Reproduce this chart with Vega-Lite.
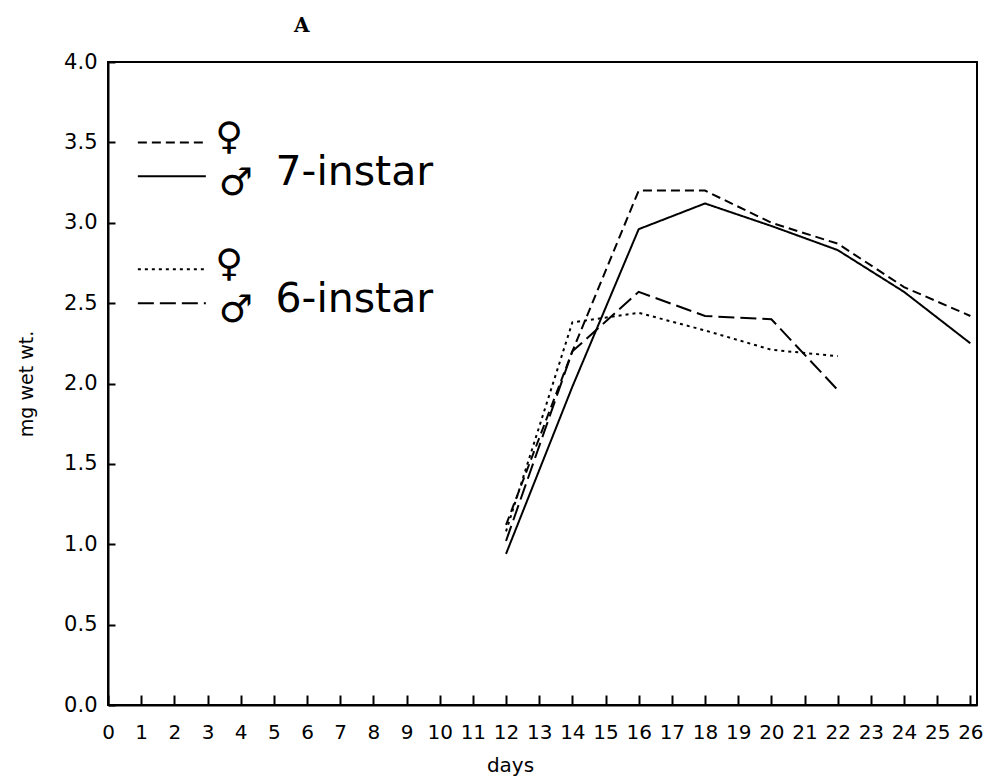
{
  "$schema": "https://vega.github.io/schema/vega-lite/v6.json",
  "width": 869,
  "height": 643,
  "autosize": "none",
  "padding": {"left": 108, "top": 62, "right": 17, "bottom": 73},
  "background": "white",
  "config": {
    "view": {"stroke": "black", "strokeWidth": 2},
    "font": "DejaVu Sans"
  },
  "title": {"text": "A", "anchor": "start", "dx": 277, "offset": 15, "font": "DejaVu Serif", "fontSize": 20, "fontWeight": "bold", "color": "black"},
  "datasets": {
    "main": [
      {"day": 12, "wt": 1.12, "s": "F7"},
      {"day": 14, "wt": 2.2, "s": "F7"},
      {"day": 16, "wt": 3.2, "s": "F7"},
      {"day": 18, "wt": 3.2, "s": "F7"},
      {"day": 20, "wt": 3.0, "s": "F7"},
      {"day": 22, "wt": 2.87, "s": "F7"},
      {"day": 24, "wt": 2.6, "s": "F7"},
      {"day": 26, "wt": 2.42, "s": "F7"},
      {"day": 12, "wt": 0.94, "s": "M7"},
      {"day": 14, "wt": 1.98, "s": "M7"},
      {"day": 16, "wt": 2.96, "s": "M7"},
      {"day": 18, "wt": 3.12, "s": "M7"},
      {"day": 20, "wt": 2.98, "s": "M7"},
      {"day": 22, "wt": 2.83, "s": "M7"},
      {"day": 24, "wt": 2.57, "s": "M7"},
      {"day": 26, "wt": 2.25, "s": "M7"},
      {"day": 12, "wt": 1.08, "s": "F6"},
      {"day": 14, "wt": 2.38, "s": "F6"},
      {"day": 16, "wt": 2.44, "s": "F6"},
      {"day": 18, "wt": 2.33, "s": "F6"},
      {"day": 20, "wt": 2.21, "s": "F6"},
      {"day": 22, "wt": 2.17, "s": "F6"},
      {"day": 12, "wt": 1.02, "s": "M6"},
      {"day": 14, "wt": 2.2, "s": "M6"},
      {"day": 16, "wt": 2.57, "s": "M6"},
      {"day": 18, "wt": 2.42, "s": "M6"},
      {"day": 20, "wt": 2.4, "s": "M6"},
      {"day": 22, "wt": 1.96, "s": "M6"}
    ],
    "leg": [
      {"s": "F7", "day": 0.9, "day2": 2.95, "wt": 3.5},
      {"s": "M7", "day": 0.9, "day2": 2.95, "wt": 3.29},
      {"s": "F6", "day": 0.9, "day2": 2.95, "wt": 2.71},
      {"s": "M6", "day": 0.9, "day2": 2.95, "wt": 2.5}
    ],
    "sym": [
      {"t": "♀", "day": 3.65, "wt": 3.53},
      {"t": "♂", "day": 3.85, "wt": 3.24},
      {"t": "♀", "day": 3.65, "wt": 2.74},
      {"t": "♂", "day": 3.85, "wt": 2.45}
    ],
    "lab": [
      {"t": "7-instar", "day": 5.05, "wt": 3.31},
      {"t": "6-instar", "day": 5.05, "wt": 2.52}
    ]
  },
  "encoding": {
    "x": {
      "field": "day", "type": "quantitative",
      "scale": {"domain": [0, 26.2], "nice": false},
      "axis": {
        "title": "days", "titleFontSize": 20, "titleFontWeight": "normal", "titleColor": "black",
        "titleX": 402, "titleY": 66, "titleBaseline": "alphabetic",
        "values": [0,1,2,3,4,5,6,7,8,9,10,11,12,13,14,15,16,17,18,19,20,21,22,23,24,25,26],
        "tickSize": -10, "tickColor": "black", "tickWidth": 2,
        "domainColor": "black", "domainWidth": 2,
        "labelFont": "DejaVu Sans",
        "labelFontSize": 20, "labelColor": "black", "labelPadding": 27, "labelFlush": false, "labelOverlap": false,
        "grid": false
      }
    },
    "y": {
      "field": "wt", "type": "quantitative",
      "scale": {"domain": [0, 4], "nice": false},
      "axis": {
        "title": "mg wet wt.", "titleFontSize": 19, "titleFontWeight": "normal", "titleColor": "black",
        "titleX": -72,
        "values": [0, 0.5, 1, 1.5, 2, 2.5, 3, 3.5, 4],
        "format": ".1f",
        "tickSize": -7, "tickColor": "black", "tickWidth": 2,
        "domainColor": "black", "domainWidth": 2,
        "labelFontSize": 21, "labelColor": "black", "labelPadding": 18, "labelFlush": false,
        "grid": false
      }
    }
  },
  "layer": [
    {
      "data": {"name": "main"},
      "mark": {"type": "line", "color": "black", "strokeWidth": 2},
      "encoding": {
        "detail": {"field": "s"},
        "strokeDash": {
          "field": "s", "type": "nominal",
          "scale": {"domain": ["F7", "M7", "F6", "M6"], "range": [[9, 5], [1, 0], [3, 4], [16, 6]]},
          "legend": null
        }
      }
    },
    {
      "data": {"name": "leg"},
      "mark": {"type": "rule", "color": "black", "strokeWidth": 2},
      "encoding": {
        "x2": {"field": "day2"},
        "strokeDash": {"field": "s", "type": "nominal", "legend": null}
      }
    },
    {
      "data": {"name": "sym"},
      "mark": {"type": "text", "fontSize": 38, "color": "black", "font": "DejaVu Sans"},
      "encoding": {
        "text": {"field": "t"}
      }
    },
    {
      "data": {"name": "lab"},
      "mark": {"type": "text", "fontSize": 41, "color": "black", "align": "left", "font": "DejaVu Sans"},
      "encoding": {
        "text": {"field": "t"}
      }
    }
  ]
}
